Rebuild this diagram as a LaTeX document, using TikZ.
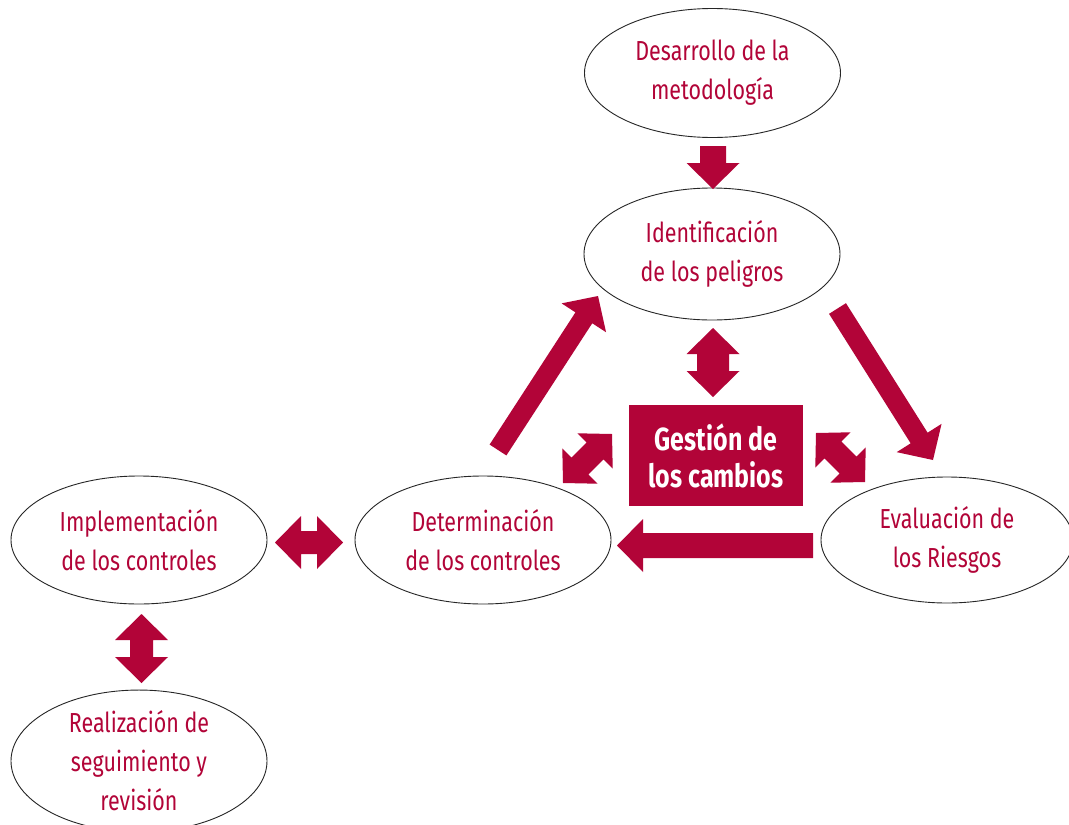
\documentclass[tikz,border=0pt]{standalone}
\usepackage{fontspec}
\setmainfont{Fira Sans}[FakeStretch=0.78]
\usetikzlibrary{shapes.geometric,calc}
\definecolor{acc}{RGB}{178,4,56}
\newcommand\blockarrow[5]{%
  \coordinate (ba-b) at ($(#2)!#5pt!(#1)$);
  \fill[acc] ($(#1)!#3pt!90:(#2)$) -- ($(ba-b)!#3pt!-90:(#1)$) -- ($(ba-b)!#4pt!-90:(#1)$) -- (#2) -- ($(ba-b)!#4pt!90:(#1)$) -- ($(ba-b)!#3pt!90:(#1)$) -- ($(#1)!#3pt!-90:(#2)$) -- cycle;
}
\newcommand\dblarrow[5]{%
  \coordinate (da-a) at ($(#1)!#5pt!(#2)$);
  \coordinate (da-b) at ($(#2)!#5pt!(#1)$);
  \fill[acc] (#1) -- ($(da-a)!#4pt!90:(#2)$) -- ($(da-a)!#3pt!90:(#2)$) -- ($(da-b)!#3pt!-90:(#1)$) -- ($(da-b)!#4pt!-90:(#1)$) -- (#2) -- ($(da-b)!#4pt!90:(#1)$) -- ($(da-b)!#3pt!90:(#1)$) -- ($(da-a)!#3pt!-90:(#2)$) -- ($(da-a)!#4pt!-90:(#2)$) -- cycle;
}
\tikzset{
  ell/.style={draw=black!85, line width=0.9pt, ellipse, minimum width=256pt, minimum height=130pt, inner sep=0pt, align=center, text=acc, font=\fontsize{27.5}{39}\selectfont},
  gbox/.style={fill=acc, minimum width=174pt, minimum height=101pt, inner sep=0pt, align=center, text=white, font=\fontsize{32}{37}\selectfont\bfseries}
}
\begin{document}
\begin{tikzpicture}[x=1pt,y=-1pt]
\useasboundingbox (0,0) rectangle (1069,825);
\clip (0,0) rectangle (1069,825);
\fill[white] (0,0) rectangle (1069,825);
% nodes
\node[ell, minimum height=129pt] (des) at (712.5,73) {Desarrollo de la\\metodología};
\node[ell, minimum height=132pt] (ide) at (712,254) {Identificación\\de los peligros};
\node[ell, minimum width=252pt, minimum height=126pt] (eva) at (947,540) {Evaluación de\\los Riesgos};
\node[ell, minimum height=128pt] (det) at (483,540) {Determinación\\de los controles};
\node[ell, minimum height=128pt] (imp) at (139,540) {Implementación\\de los controles};
\node[ell, minimum height=130pt] (rea) at (139,761) {Realización de\\seguimiento y\\revisión};
\node[gbox] (gest) at (716,455.5) {Gestión de\\los cambios};
% arrow end points
\coordinate (a1t) at (713,146);   \coordinate (a1h) at (713,189);
\coordinate (a2a) at (713,328);   \coordinate (a2b) at (713,397);
\coordinate (a3t) at (498,450);   \coordinate (a3h) at (598,296);
\coordinate (a4t) at (837.5,308.5); \coordinate (a4h) at (933,460);
\coordinate (a5t) at (813,545.5); \coordinate (a5h) at (617,545.5);
\coordinate (a6a) at (275,542.5); \coordinate (a6b) at (343,542.5);
\coordinate (a7a) at (141.5,614); \coordinate (a7b) at (141.5,683);
\coordinate (a8a) at (563,483);   \coordinate (a8b) at (612,434);
\coordinate (a9a) at (816,433); \coordinate (a9b) at (865,482);
% arrows
\blockarrow{a1t}{a1h}{13}{26.5}{26}
\dblarrow{a2a}{a2b}{16}{26.5}{26}
\blockarrow{a3t}{a3h}{10}{26.5}{26}
\blockarrow{a4t}{a4h}{10}{26.5}{26}
\blockarrow{a5t}{a5h}{12.5}{26.5}{26}
\dblarrow{a6a}{a6b}{11.5}{26.5}{26}
\dblarrow{a7a}{a7b}{11.5}{26.5}{26}
\dblarrow{a8a}{a8b}{12}{25}{24}
\dblarrow{a9a}{a9b}{12}{25}{24}
\end{tikzpicture}
\end{document}
